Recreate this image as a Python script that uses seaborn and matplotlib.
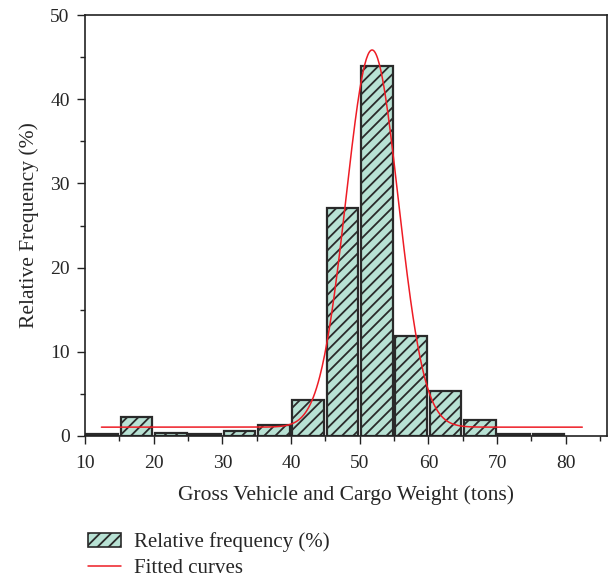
import numpy as np
import pandas as pd
import matplotlib
matplotlib.use("Agg")
import matplotlib.pyplot as plt
import seaborn as sns
from matplotlib.patches import Patch
from matplotlib.lines import Line2D

# Data
bin_edges = [10, 15, 20, 25, 30, 35, 40, 45, 50, 55, 60, 65, 70, 75, 80]
bin_centers = [12.5, 17.5, 22.5, 27.5, 32.5, 37.5, 42.5, 47.5, 52.5, 57.5, 62.5, 67.5, 72.5, 77.5]
rel_freq = [0.2, 2.2, 0.4, 0.2, 0.6, 1.3, 4.3, 27.1, 44.0, 11.9, 5.3, 1.9, 0.2, 0.2]

# Gaussian fitted curve parameters
fit_y0 = 1.05
fit_A = 44.8
fit_xc = 51.8
fit_sigma = 3.8
fit_xmin, fit_xmax = 12.4, 82.4

x_ticks = [10, 20, 30, 40, 50, 60, 70, 80]
y_ticks = [0, 10, 20, 30, 40, 50]

sns.set_style("ticks")
plt.rcParams['font.family'] = ['Liberation Serif', 'DejaVu Serif']
plt.rcParams['hatch.color'] = '#2a2a2a'
plt.rcParams['hatch.linewidth'] = 1.3

fig = plt.figure(figsize=(6.11, 5.78), dpi=100)
ax = fig.add_axes([0.139, 0.2457, 0.8545, 0.7283])

df = pd.DataFrame({"x": bin_centers, "w": rel_freq})
sns.histplot(data=df, x="x", weights="w", bins=bin_edges, shrink=0.92,
             color="#b8e2d4", edgecolor="#2a2a2a", linewidth=1.6, alpha=1,
             ax=ax, zorder=2)
for p in ax.patches:
    p.set_hatch("///")
    p.set_facecolor("#b8e2d4")

xs = np.linspace(fit_xmin, fit_xmax, 600)
ys = fit_y0 + fit_A * np.exp(-(xs - fit_xc) ** 2 / (2 * fit_sigma ** 2))
sns.lineplot(x=xs, y=ys, color="#ee1c25", linewidth=1.1, ax=ax, zorder=3)

ax.set_xlim(10, 86)
ax.set_ylim(0, 50)
ax.set_xticks(x_ticks)
ax.set_xticks([15, 25, 35, 45, 55, 65, 75, 85], minor=True)
ax.set_yticks(y_ticks)
ax.set_yticks([5, 15, 25, 35, 45], minor=True)
ax.tick_params(axis='both', which='major', direction='out', length=6, width=1.0,
               labelsize=14, color='#222222', pad=5)
ax.tick_params(axis='x', which='major', pad=8)
ax.tick_params(axis='both', which='minor', direction='out', length=3.5, width=1.0,
               color='#222222')
for s in ax.spines.values():
    s.set_visible(True)
    s.set_linewidth(1.2)
    s.set_color('#222222')

ax.set_xlabel("Gross Vehicle and Cargo Weight (tons)", fontsize=15.5, labelpad=9)
ax.set_ylabel("Relative Frequency (%)", fontsize=15.5, labelpad=8)

handles = [Patch(facecolor="#b8e2d4", edgecolor="#2a2a2a", hatch="///", linewidth=1.2),
           Line2D([0], [0], color="#ee1c25", linewidth=1.1)]
fig.legend(handles, ["Relative frequency (%)", "Fitted curves"],
           loc="upper left", bbox_to_anchor=(0.144, 0.079), frameon=False,
           fontsize=15, handlelength=1.6, handleheight=0.65, labelspacing=0.3,
           borderaxespad=0, borderpad=0, handletextpad=0.6)

fig.savefig("out.png", dpi=100)
